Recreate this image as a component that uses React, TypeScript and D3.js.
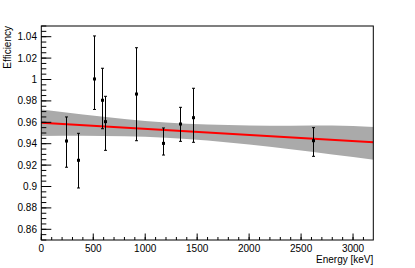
import React, { useRef, useEffect } from 'react';
import * as d3 from 'd3';

// measured points
const energies = [238.6, 351.9, 510.8, 583.2, 609.3, 911.2, 1173.2, 1332.5, 1460.8, 2614.5];
const efficiency = [0.9425, 0.9245, 1.0005, 0.9806, 0.9606, 0.9864, 0.9403, 0.9584, 0.9643, 0.9428];
const errLow = [0.918, 0.8986, 0.972, 0.954, 0.9338, 0.9428, 0.9294, 0.9422, 0.9413, 0.9282];
const errHigh = [0.965, 0.9497, 1.0407, 1.0105, 0.9843, 1.0297, 0.9547, 0.974, 0.9918, 0.955];

// fit line and confidence band
const fitEnergies = [0, 3195];
const fitValues = [0.9596, 0.9413];
const bandEnergies = [0, 400, 800, 1200, 1600, 2000, 2400, 2800, 3200];
const bandUpper = [0.9719, 0.9673, 0.9632, 0.9599, 0.9579, 0.957, 0.9568, 0.957, 0.9556];
const bandLower = [0.9473, 0.9474, 0.9469, 0.9455, 0.943, 0.9392, 0.9348, 0.93, 0.9251];

const xTicks = [0, 500, 1000, 1500, 2000, 2500, 3000];
const yTicks = [0.86, 0.88, 0.9, 0.92, 0.94, 0.96, 0.98, 1, 1.02, 1.04];

const App = () => {
  const ref = useRef(null);

  useEffect(() => {
    const svg = d3.select(ref.current);
    svg.selectAll('*').remove();

    const left = 41.3;
    const right = 373.3;
    const top = 26;
    const bottom = 240;
    const font = 'Liberation Sans, Arial, sans-serif';

    const x = d3.scaleLinear().domain([0, 3195]).range([left, right]);
    const y = d3.scaleLinear().domain([0.85, 1.05]).range([bottom, top]);

    svg.append('defs').append('clipPath').attr('id', 'frame')
      .append('rect')
      .attr('x', left).attr('y', top)
      .attr('width', right - left).attr('height', bottom - top);

    const plot = svg.append('g').attr('clip-path', 'url(#frame)');

    // band
    const bandData = bandEnergies.map((e, i) => ({ e, lo: bandLower[i], hi: bandUpper[i] }));
    const area = d3.area()
      .x((d) => x(d.e))
      .y0((d) => y(d.lo))
      .y1((d) => y(d.hi))
      .curve(d3.curveMonotoneX);
    plot.append('path').datum(bandData)
      .attr('fill', '#aaaaaa')
      .attr('d', area);

    // fit line
    const line = d3.line()
      .x((d) => x(d[0]))
      .y((d) => y(d[1]));
    plot.append('path')
      .datum(fitEnergies.map((e, i) => [e, fitValues[i]]))
      .attr('fill', 'none')
      .attr('stroke', '#ff0000')
      .attr('stroke-width', 2)
      .attr('d', line);

    // error bars
    const pts = energies.map((e, i) => ({ e, v: efficiency[i], lo: errLow[i], hi: errHigh[i] }));
    const g = plot.append('g').attr('stroke', '#000').attr('stroke-width', 1);
    pts.forEach((d) => {
      const cx = Math.round(x(d.e)) + 0.5;
      g.append('line').attr('x1', cx).attr('x2', cx).attr('y1', y(d.hi)).attr('y2', y(d.lo));
      g.append('line').attr('x1', cx - 1.5).attr('x2', cx + 1.5).attr('y1', y(d.hi)).attr('y2', y(d.hi));
      g.append('line').attr('x1', cx - 1.5).attr('x2', cx + 1.5).attr('y1', y(d.lo)).attr('y2', y(d.lo));
      plot.append('rect')
        .attr('x', cx - 1.5).attr('y', y(d.v) - 1.5)
        .attr('width', 3).attr('height', 3)
        .attr('fill', '#000');
    });

    // frame
    svg.append('rect')
      .attr('x', left).attr('y', top)
      .attr('width', right - left).attr('height', bottom - top)
      .attr('fill', 'none').attr('stroke', '#000').attr('stroke-width', 1);

    // y ticks
    const yMinor = d3.range(0.85, 1.0501, 0.005);
    svg.append('g').selectAll('line').data(yMinor).enter().append('line')
      .attr('x1', left).attr('x2', left + 5)
      .attr('y1', (d) => y(d)).attr('y2', (d) => y(d))
      .attr('stroke', '#000');
    svg.append('g').selectAll('line').data(yTicks).enter().append('line')
      .attr('x1', left).attr('x2', left + 10)
      .attr('y1', (d) => y(d)).attr('y2', (d) => y(d))
      .attr('stroke', '#000');
    svg.append('g').selectAll('text').data(yTicks).enter().append('text')
      .attr('x', 37).attr('y', (d) => y(d) + 3.5)
      .attr('text-anchor', 'end')
      .attr('font-family', font).attr('font-size', 10)
      .text((d) => d3.format('~g')(d));

    // x ticks
    const xMinor = d3.range(0, 3200, 100);
    svg.append('g').selectAll('line').data(xMinor).enter().append('line')
      .attr('x1', (d) => x(d)).attr('x2', (d) => x(d))
      .attr('y1', bottom).attr('y2', bottom - 3)
      .attr('stroke', '#000');
    svg.append('g').selectAll('line').data(xTicks).enter().append('line')
      .attr('x1', (d) => x(d)).attr('x2', (d) => x(d))
      .attr('y1', bottom).attr('y2', bottom - 6.5)
      .attr('stroke', '#000');
    svg.append('g').selectAll('text').data(xTicks).enter().append('text')
      .attr('x', (d) => x(d)).attr('y', 252)
      .attr('text-anchor', 'middle')
      .attr('font-family', font).attr('font-size', 10)
      .text((d) => d);

    // titles
    svg.append('text')
      .attr('x', right).attr('y', 263)
      .attr('text-anchor', 'end')
      .attr('font-family', font).attr('font-size', 10)
      .text('Energy [keV]');
    svg.append('text')
      .attr('transform', `translate(11, ${top}) rotate(-90)`)
      .attr('text-anchor', 'end')
      .attr('font-family', font).attr('font-size', 10)
      .text('Efficiency');
  }, []);

  return (
    <svg
      ref={ref}
      width={415}
      height={268}
      style={{ position: 'fixed', left: 0, top: 0, background: '#fff' }}
    />
  );
};

export default App;
